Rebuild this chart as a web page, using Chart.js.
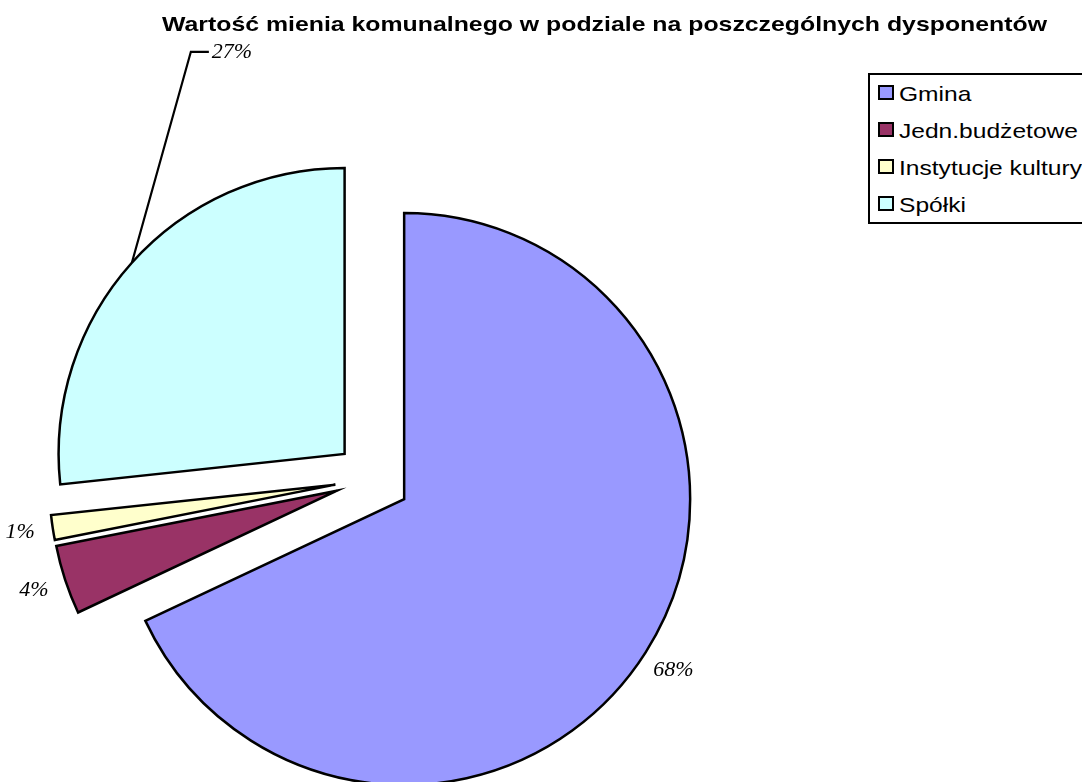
<!DOCTYPE html>
<html>
<head>
<meta charset="utf-8">
<script src="https://cdn.jsdelivr.net/npm/chart.js@4/dist/chart.umd.min.js"></script>
<style>
  html, body { margin: 0; padding: 0; background: #fff; }
  body { width: 1082px; height: 782px; position: relative; overflow: hidden; }
  #chart { position: absolute; left: 0; top: 0; }
  #title {
    position: absolute; left: 162px; top: 13px; white-space: nowrap;
    font-family: "Liberation Sans", Arial, sans-serif; font-weight: bold;
    font-size: 21px; line-height: 21px; color: #000; transform-origin: 0 0;
  }
  #legend {
    position: absolute; left: 868px; top: 73px; width: 260px; height: 151px;
    box-sizing: border-box; border: 2px solid #000; background: #fff;
  }
  .item { position: absolute; left: 0; height: 37px; width: 100%; }
  .box {
    position: absolute; left: 8px; width: 16px; height: 15px;
    box-sizing: border-box; border: 2px solid #000;
  }
  .lbl {
    position: absolute; left: 29px; white-space: nowrap;
    font-family: "Liberation Sans", Arial, sans-serif; font-size: 21px; line-height: 21px;
    color: #000; transform: scaleX(1.17); transform-origin: 0 0;
  }
</style>
</head>
<body>
<canvas id="chart" width="1082" height="782"></canvas>
<div id="title">Wartość mienia komunalnego w podziale na poszczególnych dysponentów</div>
<div id="legend"></div>
<script>
// ---- data ----
const categories = ['Gmina', 'Jedn.budżetowe', 'Instytucje kultury', 'Spółki'];
const values = [68.0, 3.9, 1.4, 26.7];
const colors = ['#9999FF', '#993366', '#FFFFCC', '#CCFFFF'];

// ---- style constants ----
const EXPLODE = 37.5;       // distance each slice is pulled out
const LABEL_GAP = 33;       // label distance beyond the rim
const LABEL_FONT = 'italic 22px "Liberation Serif", "Times New Roman", serif';
// label that was dragged away and connected with a leader line
const MOVED = { 3: { dx: 59, dy: -211, hook: 18, gap: 3 } };

// title fit
(function () {
  const t = document.getElementById('title');
  const w = t.getBoundingClientRect().width;
  t.style.transform = 'scaleX(' + (885 / w) + ')';
})();

// legend
(function () {
  const lg = document.getElementById('legend');
  categories.forEach((c, i) => {
    const it = document.createElement('div');
    it.className = 'item';
    it.style.top = (10 + i * 37) + 'px';
    const b = document.createElement('div');
    b.className = 'box';
    b.style.top = '0px';
    b.style.background = colors[i];
    const l = document.createElement('div');
    l.className = 'lbl';
    l.style.top = '-2px';
    l.textContent = c;
    it.appendChild(b); it.appendChild(l);
    lg.appendChild(it);
  });
})();

const explodePlugin = {
  id: 'explode',
  beforeDatasetDraw(chart, args) {
    const ctx = chart.ctx;
    args.meta.data.forEach(arc => {
      const mid = (arc.startAngle + arc.endAngle) / 2;
      ctx.save();
      ctx.translate(Math.cos(mid) * EXPLODE, Math.sin(mid) * EXPLODE);
      arc.draw(ctx, chart.chartArea);
      ctx.restore();
    });
    return false;
  }
};

const labelPlugin = {
  id: 'pctLabels',
  afterDatasetsDraw(chart) {
    const ctx = chart.ctx;
    const meta = chart.getDatasetMeta(0);
    const data = chart.data.datasets[0].data;
    const total = data.reduce((a, b) => a + b, 0);
    ctx.save();
    ctx.font = LABEL_FONT;
    ctx.fillStyle = '#000';
    ctx.strokeStyle = '#000';
    ctx.lineWidth = 2.2;
    meta.data.forEach((arc, i) => {
      const mid = (arc.startAngle + arc.endAngle) / 2;
      const cx = arc.x + Math.cos(mid) * EXPLODE;
      const cy = arc.y + Math.sin(mid) * EXPLODE;
      const r = arc.outerRadius;
      const txt = Math.round(data[i] / total * 100) + '%';
      const m = MOVED[i];
      if (m) {
        const px = cx + Math.cos(mid) * r, py = cy + Math.sin(mid) * r;
        const ex = px + m.dx, ey = py + m.dy;
        ctx.beginPath();
        ctx.moveTo(px, py); ctx.lineTo(ex, ey); ctx.lineTo(ex + m.hook, ey);
        ctx.stroke();
        ctx.textAlign = 'left'; ctx.textBaseline = 'middle';
        ctx.fillText(txt, ex + m.hook + m.gap, ey);
      } else {
        const lx = cx + Math.cos(mid) * (r + LABEL_GAP);
        const ly = cy + Math.sin(mid) * (r + LABEL_GAP);
        ctx.textAlign = 'center'; ctx.textBaseline = 'middle';
        ctx.fillText(txt, lx, ly);
      }
    });
    ctx.restore();
  }
};

new Chart(document.getElementById('chart'), {
  type: 'pie',
  data: {
    labels: categories,
    datasets: [{
      data: values,
      backgroundColor: colors,
      borderColor: '#000',
      borderWidth: 2.5,
      borderJoinStyle: 'miter',
      clip: false
    }]
  },
  options: {
    responsive: false,
    animation: false,
    radius: 286,
    layout: { padding: { left: 0, right: 337, top: 176, bottom: 0 } },
    plugins: { legend: { display: false }, title: { display: false }, tooltip: { enabled: false } }
  },
  plugins: [explodePlugin, labelPlugin]
});
</script>
</body>
</html>
